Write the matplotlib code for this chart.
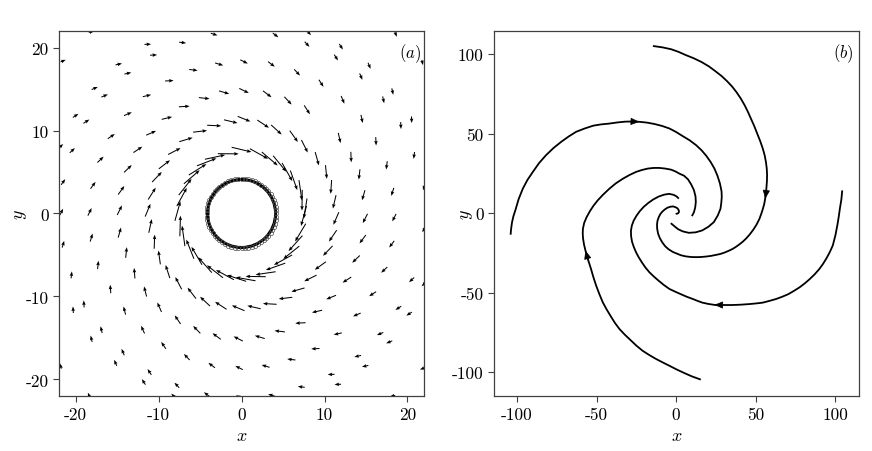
import numpy as np
import matplotlib.pyplot as plt
from matplotlib.patches import Circle

plt.rcParams['font.family'] = 'serif'
plt.rcParams['font.serif'] = ['cmr10']
plt.rcParams['mathtext.fontset'] = 'cm'
plt.rcParams['axes.unicode_minus'] = False

# ---- panel (a): particle positions (x, y), by quadrant
q_upper_left = [
    (-18.1, 21.9), (-3.3, 21.6), (-11.3, 20.4), (-7.1, 20.6), (-10.6, 19.1), (-21.5, 18.4),
    (-14.8, 18.0), (-13.7, 16.9), (-5.8, 17.3), (-2.7, 18.0), (0.3, 18.3),
    (-8.7, 16.0), (-17.7, 15.1), (-16.5, 14.2), (-11.4, 14.2), (-4.5, 13.9), (-2.1, 14.6), (0.3, 14.8),
    (-6.9, 12.9), (-20.0, 11.8), (-18.7, 11.1), (-13.7, 12.0), (-9.0, 11.5), (-3.3, 10.6), (-1.3, 11.1),
    (0.3, 11.4), (-5.0, 9.9), (-10.9, 9.7), (-15.7, 9.3), (-21.8, 8.1), (-20.4, 7.6), (-12.5, 7.7),
    (-6.7, 8.9), (-8.1, 7.5), (-3.2, 6.8), (-1.6, 7.2), (0.0, 7.7), (-17.0, 6.5), (-9.3, 5.9),
    (-4.2, 6.2), (-5.3, 5.3), (-13.7, 5.4), (-10.2, 4.4), (-6.0, 4.4), (-21.5, 3.8), (-17.9, 3.4),
    (-14.5, 2.8), (-10.8, 2.4), (-6.8, 3.2), (-7.2, 2.0), (-21.7, 0.2), (-18.3, 0.2), (-14.7, 0.4),
    (-11.3, 0.4), (-7.7, 0.3),
]
q_upper_right = [
    (4.1, 21.5), (8.1, 21.8), (18.6, 21.6), (3.6, 18.0), (7.9, 20.4), (12.0, 20.1), (6.7, 17.0),
    (11.4, 18.8), (15.4, 17.8), (14.4, 16.5), (18.2, 14.7), (17.1, 13.7), (21.8, 18.2),
    (3.1, 14.4), (5.6, 13.6), (9.6, 15.7), (7.9, 12.5), (12.2, 13.7),
    (2.6, 10.8), (4.2, 10.1), (6.3, 9.3), (7.6, 8.1), (9.1, 6.6), (10.2, 5.0), (10.8, 3.2), (11.2, 1.4),
    (11.8, 9.1), (13.2, 6.8), (14.2, 4.7), (14.7, 2.2), (14.5, 11.4), (16.2, 8.7), (17.5, 5.8),
    (18.2, 2.6), (19.2, 10.6), (20.5, 11.3), (20.8, 7.0), (22.0, 3.2),
    (2.1, 7.2), (3.4, 6.6), (4.6, 6.0), (5.5, 5.0), (6.3, 4.0), (7.1, 2.8), (7.3, 1.6), (7.7, 0.6),
]
q_lower_left = [
    (-21.5, -3.7), (-18.1, -2.9), (-14.7, -2.3), (-11.0, -1.5), (-7.4, -1.5), (-7.0, -2.7),
    (-20.5, -7.4), (-17.3, -6.2), (-13.9, -4.7), (-10.5, -3.4), (-9.9, -5.3), (-6.2, -4.3),
    (-5.4, -5.1), (-4.4, -6.2), (-3.2, -7.0), (-2.0, -7.4), (-0.6, -7.8),
    (-12.9, -7.2), (-8.9, -7.0), (-15.8, -9.1), (-11.6, -9.4), (-7.6, -8.4), (-6.0, -9.6),
    (-4.4, -10.6), (-2.5, -11.1), (-0.4, -11.4),
    (-20.3, -11.6), (-19.0, -10.9), (-14.1, -11.7), (-9.9, -11.3), (-7.7, -12.8), (-5.4, -14.0),
    (-3.0, -14.8), (-0.4, -15.1), (-16.9, -14.0), (-18.1, -15.1), (-11.9, -14.0), (-9.4, -15.9),
    (-6.6, -17.3), (-3.6, -18.3), (-0.3, -18.6), (-14.3, -16.7), (-15.2, -18.0), (-11.1, -19.1),
    (-11.8, -20.3), (-7.8, -20.7), (-21.8, -18.4), (-18.4, -21.9), (-8.2, -22.0), (-4.2, -21.8),
    (-0.3, -22.1),
]
q_lower_right = [
    (7.5, -0.3), (11.4, -0.6), (14.9, -0.6), (18.4, -0.5), (22.0, -1.9),
    (7.1, -2.3), (6.5, -3.6), (6.0, -4.7), (5.0, -5.6), (4.1, -6.4), (2.9, -7.2), (1.7, -7.6), (0.5, -7.9),
    (11.0, -2.7), (10.4, -4.5), (9.5, -6.3), (8.3, -7.8), (6.8, -9.2), (5.3, -10.2), (3.4, -10.9),
    (1.5, -11.3), (14.6, -3.1), (13.8, -5.5), (12.7, -8.0), (10.8, -10.1), (9.1, -11.8), (7.1, -13.2),
    (4.6, -14.2), (2.2, -14.9), (18.1, -3.7), (17.2, -6.8), (15.8, -9.7), (13.9, -12.2), (11.6, -14.5),
    (8.9, -16.3), (6.0, -17.6), (2.9, -18.4), (20.5, -8.0), (22.0, -8.5), (18.9, -11.4), (20.2, -12.1),
    (16.7, -14.5), (17.8, -15.5), (14.0, -17.2), (14.9, -18.4), (10.8, -19.4), (11.6, -20.6),
    (7.2, -20.9), (3.6, -21.9), (18.2, -22.0), (21.8, -18.7),
]

# velocity: length (data units) and inward tilt (deg) vs radius
field_r = [4, 7.5, 11, 15, 20, 30]
field_len = [2.9, 2.5, 1.7, 1.25, 0.9, 0.6]
field_tilt = [12, 13, 20, 25, 26, 28]

ring_radius = 4.2
ring_count = 64

# ---- panel (b): four trajectories, outer end -> inner end
arm_c = [(-14, 105), (-8.5, 104.2), (-3, 103), (1.5, 101.4), (6, 99.4), (11, 97.4), (16, 95),
         (20.7, 92.2), (25, 89), (28.7, 86.1), (32, 83), (35.2, 79.6), (38, 76), (40.7, 72),
         (43, 68), (45.1, 63.8), (47, 59.5), (49.1, 54.8), (51, 50), (52.9, 45.2), (54.5, 40.6),
         (55.7, 36.3), (56.5, 32), (57, 28), (57.2, 24), (57.1, 20), (56.8, 16), (56.5, 12.5),
         (56, 9), (55.4, 5.7), (54.5, 2.5), (53.5, -0.6), (52.4, -3.6), (50.6, -7.2), (48.5, -10.5),
         (46.3, -13.4), (44, -16), (42, -17.9), (40, -19.5), (37.8, -21.1), (35.6, -22.5),
         (33.1, -23.7), (30.5, -24.8), (27.8, -25.7), (25, -26.3), (22, -26.9), (19, -27.3),
         (15.8, -27.6), (12.6, -27.7), (9.3, -27.6), (6, -27.2), (3, -26.5), (0.8, -25.6),
         (-2.1, -24.4), (-4.8, -22.7), (-6.9, -20.8), (-8.7, -18.4), (-10.2, -15.8), (-11.3, -13),
         (-11.9, -9.9), (-12, -7.2), (-11.7, -4.8), (-10.9, -2.5), (-9.9, -0.6), (-8.6, 1),
         (-7.1, 2.3), (-5.4, 3.4), (-3.6, 4), (-2, 4.2), (-0.6, 3.8), (0.6, 3.2), (1.4, 2.3),
         (1.8, 1.3), (1.7, 0.4), (1.1, -0.2), (0.3, -0.4)]
arm_b = [(-104, -13), (-103.8, -10.5), (-103.2, -6), (-102.3, -2), (-101, 2), (-99, 8.8),
         (-96.4, 15.3), (-93.5, 20.8), (-90, 26), (-86.2, 31.4), (-81.8, 36.4), (-77, 41),
         (-72, 45), (-67.5, 48.2), (-62.9, 51.1), (-57.5, 53.2), (-52, 55), (-47, 55.8),
         (-41.9, 56.3), (-37, 57), (-32, 57.5), (-27.5, 57.6), (-23.1, 57.4), (-18.3, 56.9),
         (-13.5, 56), (-8.8, 54.8), (-4.2, 53.2), (0, 51), (4, 48.5), (8.5, 45.8), (12.6, 42.7),
         (16, 39.5), (19, 36), (21.8, 32), (24.1, 28), (26, 23.5), (27.6, 18.5), (28.6, 13.5),
         (28.7, 10), (28.4, 6.3), (27.9, 2.7), (26.2, -1.5), (23.7, -5.7), (20.3, -8.6),
         (16.4, -10.9), (12.3, -12.1), (8, -12.4), (4.2, -11.5), (1.4, -10.2), (-0.4, -8.8),
         (-2.9, -6.7)]
arm_d = [(15, -104.5), (10, -102.7), (5, -100.5), (0.3, -98.3), (-4.2, -96), (-8.6, -93.8),
         (-13, -91.5), (-17.1, -89.1), (-21, -86.6), (-24.9, -83.4), (-28.5, -80), (-32.2, -76.5),
         (-35.6, -72.9), (-38.5, -69), (-41, -65), (-43.6, -60.7), (-46.1, -56.1), (-48.3, -50.8),
         (-50.3, -45.5), (-52, -40.3), (-53.5, -35.1), (-55.4, -29.2), (-57, -23.5), (-57.9, -19.7),
         (-58.5, -16), (-58.7, -12.9), (-58.6, -9.9), (-57.8, -6.2), (-56.3, -2.6), (-54.2, 1.2),
         (-51.9, 4.7), (-49.3, 8), (-46, 11.5), (-42, 15.3), (-37.9, 18.7), (-33.5, 21.6),
         (-29.4, 23.9), (-25.2, 25.9), (-21.5, 27.1), (-17.8, 28), (-14.1, 28.4), (-10.5, 28.4),
         (-6.8, 28), (-3.1, 27.3), (-0.4, 26.2), (2.1, 24.8), (5, 23.5), (7.5, 21.2), (9.5, 18),
         (11.2, 14.5), (12.2, 10.5), (12.4, 7), (12, 3.5), (11.2, 0.5), (10.2, -1.4)]
arm_e = [(104.4, 13.7), (103.9, 8.5), (103, 3), (102.3, -2), (101.5, -7), (100.2, -13.8),
         (98.5, -20.4), (96.6, -24.6), (94.5, -28.5), (92.4, -31.9), (90.1, -35.1), (87.2, -38.4),
         (84, -41.5), (80.9, -44.2), (77.6, -46.7), (74.1, -48.9), (70.5, -51), (66.7, -52.6),
         (62.9, -54), (58.7, -55.2), (54.5, -56.3), (50.3, -56.8), (46.1, -57.2), (40.5, -57.6),
         (35, -57.8), (29.5, -57.8), (24, -57.7), (20.2, -57.1), (16.5, -56.3), (13.5, -55.2),
         (10.5, -54), (6.7, -52.6), (3, -51), (-0.6, -49.4), (-4.2, -47.7), (-7.7, -45.2),
         (-11, -42.5), (-14, -39.9), (-16.8, -37.2), (-19.3, -34.2), (-21.5, -31), (-23.5, -27.8),
         (-25.2, -24.6), (-26.6, -21.3), (-27.7, -18), (-28.3, -14.5), (-28.4, -11), (-27.8, -7.8),
         (-26.7, -4.8), (-25, -1.8), (-23, 1), (-20.5, 3.8), (-17.6, 6.3), (-14.5, 8.5),
         (-11, 10.4), (-7.5, 11.6), (-4.4, 12.1), (-1.6, 11.5), (0.3, 10.5), (1.3, 9.5)]
arrow_tips = [(56, 9), (-23.1, 57.4), (-57, -23.5), (24, -57.7)]

fig = plt.figure(figsize=(8.72, 4.52), dpi=100)
ax1 = fig.add_axes([0.0677, 0.1217, 0.4186, 0.8075])
ax2 = fig.add_axes([0.5665, 0.1217, 0.4186, 0.8075])

# (a) quiver
pts = np.array(q_upper_left + q_upper_right + q_lower_left + q_lower_right)
x, y = pts[:, 0], pts[:, 1]
r = np.hypot(x, y)
theta = np.arctan2(y, x)
length = np.interp(r, field_r, field_len)
tilt = np.radians(np.interp(r, field_r, field_tilt))
ang = theta - np.pi / 2 - tilt   # clockwise, turned slightly inward
u = length * np.cos(ang)
v = length * np.sin(ang)
ax1.quiver(x, y, u, v, angles='xy', scale_units='xy', scale=1, pivot='mid',
           width=0.0028, headwidth=3.5, headlength=4.5, headaxislength=4, color='k')

ax1.add_patch(Circle((0, 0), ring_radius - 0.1, fill=False, lw=2.2, color='k'))
phi = np.linspace(0, 2 * np.pi, ring_count, endpoint=False)
ax1.plot(ring_radius * np.cos(phi), ring_radius * np.sin(phi), 'o', ms=3,
         mfc='none', mec='0.3', mew=0.5)

ax1.set_xlim(-22, 22)
ax1.set_ylim(-22, 22)
ax1.set_xticks([-20, -10, 0, 10, 20])
ax1.set_yticks([-20, -10, 0, 10, 20])
ax1.text(0.993, 0.94, r'$(a)$', transform=ax1.transAxes, ha='right', va='center', fontsize=12)
ax1.yaxis.set_label_coords(-0.082, 0.5)

# (b) trajectories
for arm in [arm_c, arm_b, arm_d, arm_e]:
    a = np.array(arm)
    ax2.plot(a[:, 0], a[:, 1], color='k', lw=1.3, solid_joinstyle='round')
    for tip in arrow_tips:
        d = np.hypot(a[:, 0] - tip[0], a[:, 1] - tip[1])
        i = int(np.argmin(d))
        if d[i] < 0.5 and i > 0:
            ax2.annotate('', xy=a[i], xytext=a[i - 1],
                         arrowprops=dict(arrowstyle='-|>,head_length=0.6,head_width=0.25',
                                         color='k', lw=0.5, mutation_scale=9,
                                         shrinkA=0, shrinkB=0))

ax2.set_xlim(-114.5, 115)
ax2.set_ylim(-115, 114.5)
ax2.set_xticks([-100, -50, 0, 50, 100])
ax2.set_yticks([-100, -50, 0, 50, 100])
ax2.text(0.984, 0.94, r'$(b)$', transform=ax2.transAxes, ha='right', va='center', fontsize=12)
ax2.yaxis.set_label_coords(-0.052, 0.5)

for ax in (ax1, ax2):
    ax.set_xlabel(r'$x$', fontsize=13)
    ax.set_ylabel(r'$y$', fontsize=13)
    ax.tick_params(labelsize=12.5, length=4, width=0.8, color='0.25')
    for s in ax.spines.values():
        s.set_color('0.25')
        s.set_linewidth(0.9)

fig.savefig('out.png', dpi=100)
